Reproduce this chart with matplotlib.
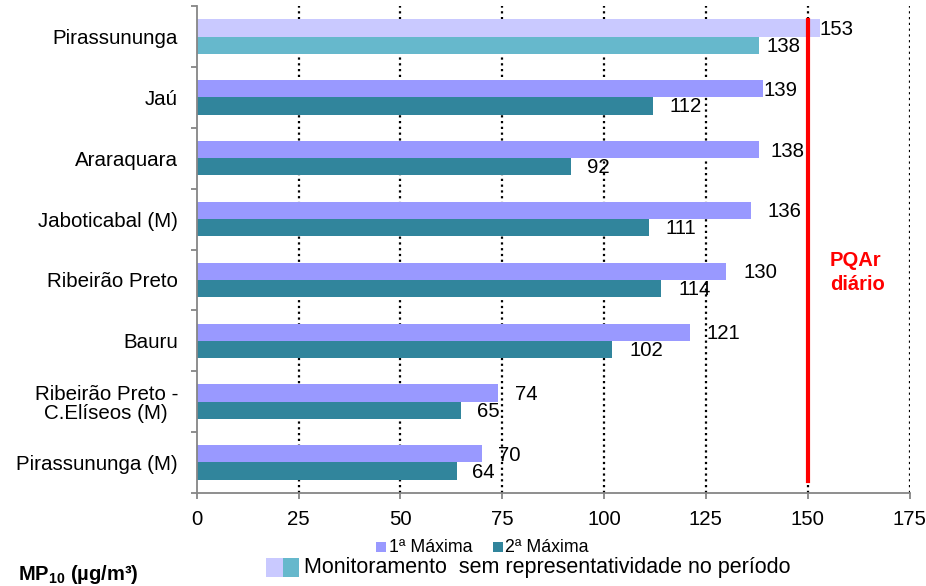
import matplotlib
matplotlib.use("Agg")
import matplotlib.pyplot as plt
from matplotlib.patches import Rectangle
import numpy as np

plt.rcParams['font.family'] = ['Liberation Sans', 'DejaVu Sans']
plt.rcParams['mathtext.fontset'] = 'custom'
plt.rcParams['mathtext.rm'] = 'Liberation Sans'
plt.rcParams['mathtext.bf'] = 'Liberation Sans:bold'

# ---- data ----
categories = ["Pirassununga", "Jaú", "Araraquara", "Jaboticabal (M)",
              "Ribeirão Preto", "Bauru", "Ribeirão Preto -\nC.Elíseos (M)",
              "Pirassununga (M)"]
max1 = [153, 139, 138, 136, 130, 121, 74, 70]
max2 = [138, 112, 92, 111, 114, 102, 65, 64]
non_representative = [True, False, False, False, False, False, False, False]
x_ticks = [0, 25, 50, 75, 100, 125, 150, 175]
pqar_limit = 150
series_names = ["1ª Máxima", "2ª Máxima"]

# label offsets (pixels) from bar end
off1 = [0, 1, 12, 17, 17, 17, 17, 16]
off2 = [8, 17, 16, 17, 17, 17, 16, 15]

# ---- style ----
c1, c2 = "#9999FF", "#31859C"
c1_nr, c2_nr = "#C9C9FF", "#66B8CC"
W, H = 926, 586
fig = plt.figure(figsize=(W / 100, H / 100), dpi=100)
ax = fig.add_axes([196.7 / W, 1 - 492.9 / H, (909.5 - 196.7) / W, (492.9 - 6.1) / H])

y = np.arange(len(categories))
bh = 0.283
cols1 = [c1_nr if nr else c1 for nr in non_representative]
cols2 = [c2_nr if nr else c2 for nr in non_representative]
ax.barh(y - bh / 2, max1, height=bh, color=cols1, zorder=2)
ax.barh(y + bh / 2, max2, height=bh, color=cols2, zorder=2)

for i in range(len(categories)):
    ax.annotate(str(max1[i]), (max1[i], y[i] - bh / 2), xytext=(off1[i], -1.5),
                textcoords='offset pixels', ha='left', va='center',
                fontsize=14.7, color='black', zorder=4)
    ax.annotate(str(max2[i]), (max2[i], y[i] + bh / 2), xytext=(off2[i], -1),
                textcoords='offset pixels', ha='left', va='center',
                fontsize=14.7, color='black', zorder=4)

ax.set_xlim(0, 175)
ax.set_ylim(len(categories) - 0.5, -0.5)
ax.set_xticks(x_ticks)
ax.set_xticklabels([str(t) for t in x_ticks], fontsize=14.7)
ax.set_yticks(y)
ax.set_yticklabels(categories, fontsize=14.8, multialignment='center', linespacing=1.05)
ax.set_yticks(np.arange(len(categories) + 1) - 0.5, minor=True)

for t in x_ticks[1:]:
    ax.axvline(t, color='black', lw=1.6, linestyle=(0, (1, 1.6)), zorder=1)

ax.axvline(pqar_limit, ymin=0.0244, ymax=0.9715, color='#FF0000', lw=3, zorder=3)

for s in ['top', 'right']:
    ax.spines[s].set_visible(False)
for s in ['left', 'bottom']:
    ax.spines[s].set_color('#868686')
    ax.spines[s].set_linewidth(1.3)
    ax.spines[s].set_zorder(5)

ax.tick_params(axis='y', which='major', length=0, pad=13.5)
ax.tick_params(axis='y', which='minor', length=4.5, width=1.3, color='#868686')
ax.tick_params(axis='x', which='major', length=4, width=1.3, color='#868686', pad=8)

# PQAr annotation
fig.text(830 / W, 1 - 260.5 / H, "PQAr", color='#FF0000', fontsize=14.5,
         fontweight='bold', ha='left', va='center')
fig.text(830 / W, 1 - 284 / H, "diário", color='#FF0000', fontsize=14.5,
         fontweight='bold', ha='left', va='center')

# legend line 1
def square(x0, y0, w, h, color):
    fig.add_artist(Rectangle((x0 / W, 1 - (y0 + h) / H), w / W, h / H,
                             transform=fig.transFigure, color=color, lw=0))

square(376, 542, 10, 10, c1)
fig.text(389 / W, 1 - 547 / H, series_names[0], fontsize=12.8, ha='left', va='center')
square(493, 542, 10, 10, c2)
fig.text(505 / W, 1 - 547 / H, series_names[1], fontsize=12.8, ha='left', va='center')

# legend line 2
square(266, 558, 17, 19, c1_nr)
square(283, 558, 16, 19, c2_nr)
fig.text(304 / W, 1 - 567 / H, "Monitoramento  sem representatividade no período",
         fontsize=15.5, ha='left', va='center')

fig.text(18 / W, 1 - 574 / H, r"MP$_{\mathbf{10}}$ (µg/m³)", fontsize=14.5,
         fontweight='bold', ha='left', va='center')

fig.savefig("out.png", dpi=100)
